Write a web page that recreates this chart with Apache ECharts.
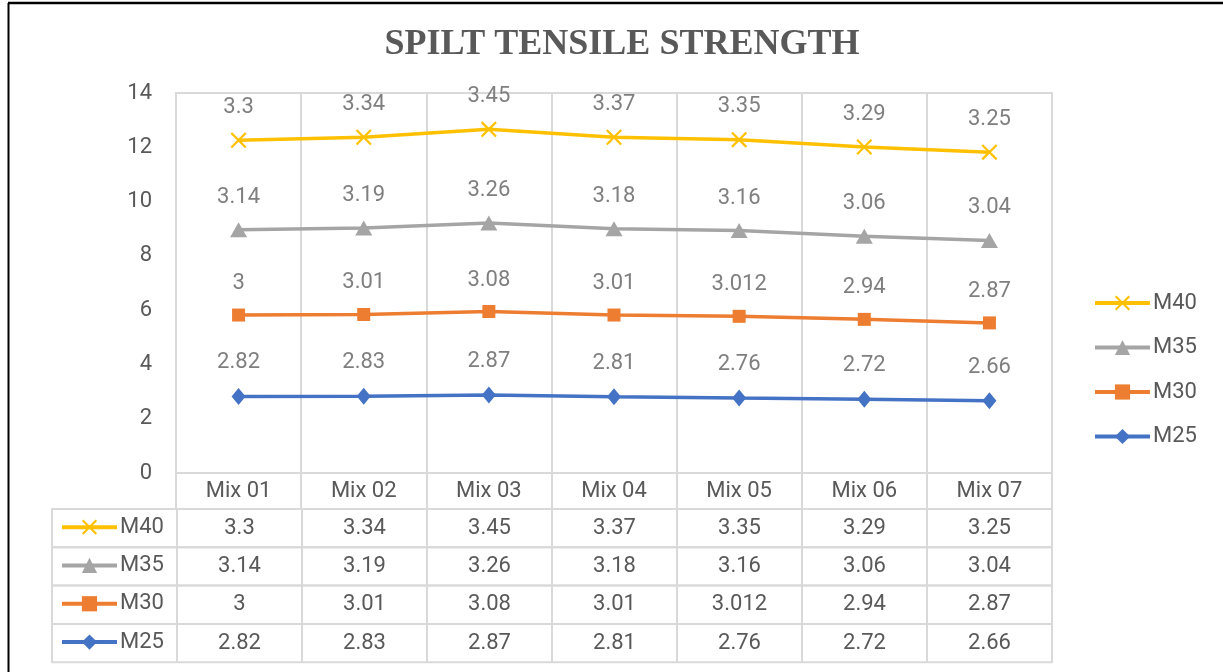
<!DOCTYPE html>
<html>
<head>
<meta charset="utf-8">
<script src="https://cdn.jsdelivr.net/npm/echarts@6/dist/echarts.min.js"></script>
<style>
html,body{margin:0;padding:0;background:#fff;}
#chart{width:1223px;height:672px;}
</style>
</head>
<body>
<div id="chart"></div>
<script>
const titleText = 'SPILT TENSILE STRENGTH';
const categories = ['Mix 01','Mix 02','Mix 03','Mix 04','Mix 05','Mix 06','Mix 07'];
const seriesNames = ['M25','M30','M35','M40'];
const m25 = [2.82, 2.83, 2.87, 2.81, 2.76, 2.72, 2.66];
const m30 = [3, 3.01, 3.08, 3.01, 3.012, 2.94, 2.87];
const m35 = [3.14, 3.19, 3.26, 3.18, 3.16, 3.06, 3.04];
const m40 = [3.3, 3.34, 3.45, 3.37, 3.35, 3.29, 3.25];
const yTicks = {min: 0, max: 14, interval: 2};

const seriesData = {M25: m25, M30: m30, M35: m35, M40: m40};
const colors = {M25: '#4472C4', M30: '#ED7D31', M35: '#A5A5A5', M40: '#FFC000'};
const crossPath = 'path://M0,1L1,0L10,9L9,10ZM9,0L10,1L1,10L0,9Z';
const symbols = {M25: 'diamond', M30: 'rect', M35: 'triangle', M40: crossPath};
const symbolSizes = {M25: [14, 17], M30: 13, M35: [17, 15], M40: 16};
const tableOrder = ['M40','M35','M30','M25'];

const GRID_L = 176, GRID_R = 171, GRID_T = 93, GRID_B = 199;
const HEAD_T = 473, HEAD_H = 36;
const ROW_T = 509, ROW_H = 38.3, TABLE_L = 52;
const lineCol = '#d9d9d9';
const textCol = '#595959';
const fontFam = 'Roboto, "Liberation Sans", sans-serif';
const FS = 22;

const grids = [
  {left: GRID_L, right: GRID_R, top: GRID_T, bottom: GRID_B, show: true, borderColor: lineCol, borderWidth: 2, backgroundColor: 'transparent'},
  {left: GRID_L, right: GRID_R, top: HEAD_T, height: HEAD_H, show: true, borderColor: lineCol, borderWidth: 2, backgroundColor: 'transparent'}
];
const xAxes = [
  {gridIndex: 0, type: 'category', data: categories, boundaryGap: true,
   axisLine: {show: false}, axisTick: {show: false}, axisLabel: {show: false},
   splitLine: {show: true, interval: 0, lineStyle: {color: lineCol, width: 2}}},
  {gridIndex: 1, type: 'category', data: categories, boundaryGap: true,
   axisLine: {show: false}, axisTick: {show: false},
   axisLabel: {show: true, inside: true, interval: 0, margin: 7, color: textCol, fontSize: FS, fontFamily: fontFam},
   splitLine: {show: true, interval: 0, lineStyle: {color: lineCol, width: 2}}}
];
const yAxes = [
  {gridIndex: 0, type: 'value', min: yTicks.min, max: yTicks.max, interval: yTicks.interval,
   axisLine: {show: false}, axisTick: {show: false}, splitLine: {show: false},
   axisLabel: {color: textCol, fontSize: FS, fontFamily: fontFam, margin: 24}},
  {gridIndex: 1, type: 'value', show: false}
];
const legendCommon = {itemWidth: 55, itemHeight: 19, padding: 0,
  lineStyle: {width: 4}, textStyle: {color: textCol, fontSize: FS, fontFamily: fontFam, padding: [0,0,0,-2]}};
const legends = [
  Object.assign({orient: 'vertical', left: 1093, top: 292, itemGap: 22.5, data: ['M40','M35','M30','M25']}, legendCommon)
];
tableOrder.forEach((name, i) => {
  const gi = grids.length;
  grids.push({left: TABLE_L, right: GRID_R, top: ROW_T + i * ROW_H, height: ROW_H, show: true, borderColor: lineCol, borderWidth: 2, backgroundColor: 'transparent'});
  xAxes.push({gridIndex: gi, type: 'category', data: [''].concat(seriesData[name].map(v => String(v))), boundaryGap: true,
    axisLine: {show: false}, axisTick: {show: false},
    axisLabel: {show: true, inside: true, interval: 0, margin: 8, color: textCol, fontSize: FS, fontFamily: fontFam},
    splitLine: {show: true, interval: 0, lineStyle: {color: lineCol, width: 2}}});
  yAxes.push({gridIndex: gi, type: 'value', show: false});
  legends.push(Object.assign({orient: 'horizontal', left: 60, top: ROW_T + i * ROW_H + ROW_H / 2 - 12, data: [name]}, legendCommon));
});

const series = seriesNames.map(name => ({
  name: name,
  type: 'line',
  stack: 'total',
  xAxisIndex: 0, yAxisIndex: 0,
  data: seriesData[name],
  symbol: symbols[name],
  symbolSize: symbolSizes[name],
  showAllSymbol: true,
  lineStyle: {color: colors[name], width: 3.5},
  itemStyle: {color: colors[name]},
  label: {show: true, position: 'top', distance: 14, color: '#7f7f7f', fontSize: FS, fontFamily: fontFam},
  emphasis: {disabled: true},
  animation: false
}));

const chart = echarts.init(document.getElementById('chart'), null, {renderer: 'canvas'});
chart.setOption({
  animation: false,
  backgroundColor: '#ffffff',
  title: {text: titleText, left: 617, textAlign: 'center', top: 22,
    textStyle: {fontFamily: '"Liberation Serif", "DejaVu Serif", serif', fontWeight: 'bold', fontSize: 36, color: textCol}},
  graphic: [
    {type: 'line', shape: {x1: 8, y1: 3, x2: 1223, y2: 3}, style: {stroke: '#000', lineWidth: 2.5}, silent: true},
    {type: 'line', shape: {x1: 8.5, y1: 3, x2: 8.5, y2: 672}, style: {stroke: '#000', lineWidth: 2}, silent: true}
  ],
  grid: grids,
  xAxis: xAxes,
  yAxis: yAxes,
  legend: legends,
  series: series
});
</script>
</body>
</html>
